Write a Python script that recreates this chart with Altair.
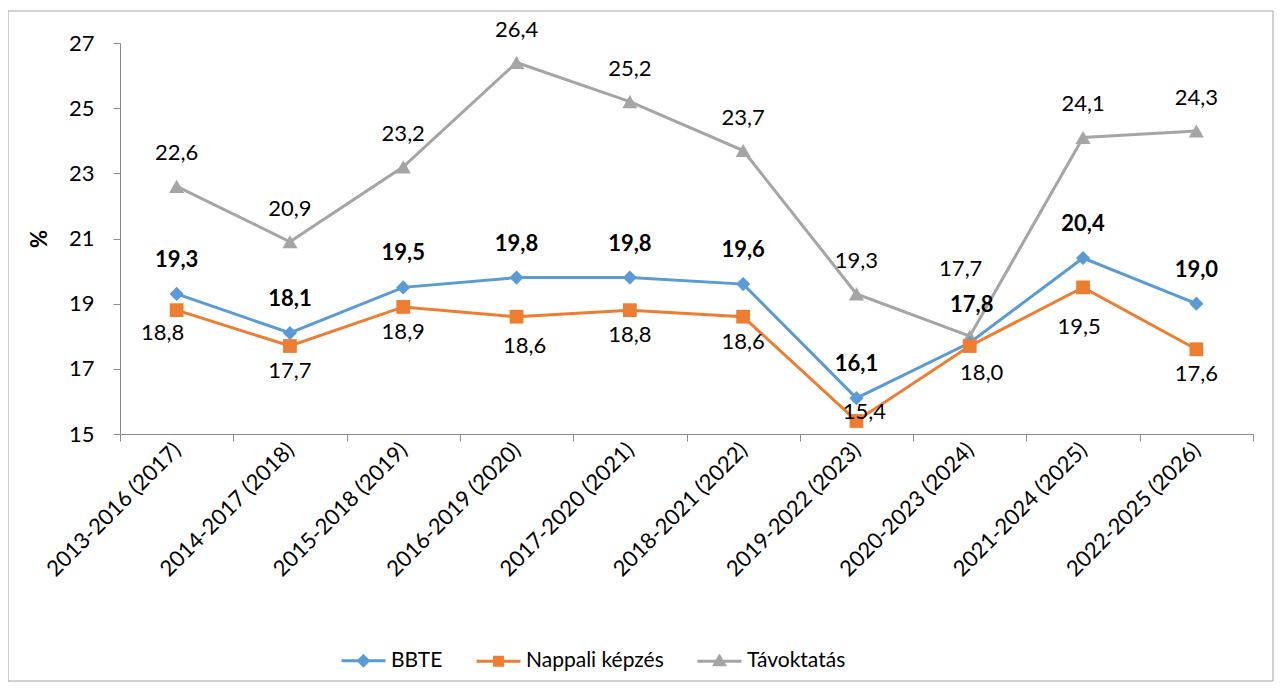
import altair as alt
import pandas as pd

categories = ["2013-2016 (2017)", "2014-2017 (2018)", "2015-2018 (2019)", "2016-2019 (2020)",
              "2017-2020 (2021)", "2018-2021 (2022)", "2019-2022 (2023)", "2020-2023 (2024)",
              "2021-2024 (2025)", "2022-2025 (2026)"]
bbte = [19.3, 18.1, 19.5, 19.8, 19.8, 19.6, 16.1, 17.8, 20.4, 19.0]
nappali = [18.8, 17.7, 18.9, 18.6, 18.8, 18.6, 15.4, 17.7, 19.5, 17.6]
tavoktatas = [22.6, 20.9, 23.2, 26.4, 25.2, 23.7, 19.3, 18.0, 24.1, 24.3]
series_names = ["BBTE", "Nappali képzés", "Távoktatás"]
colors = ["#5B9BD5", "#ED7D31", "#A5A5A5"]
y_ticks = [15, 17, 19, 21, 23, 25, 27]

rows = []
for name, vals in zip(series_names, [bbte, nappali, tavoktatas]):
    for c, v in zip(categories, vals):
        rows.append({"period": c, "series": name, "value": v,
                     "label": f"{v:.1f}".replace(".", ",")})
df = pd.DataFrame(rows)

FONT = "Lato"
FS = 22

x_enc = alt.X("period:N", sort=categories,
              scale=alt.Scale(type="band", domain=categories, paddingInner=0, paddingOuter=0),
              axis=alt.Axis(title=None, tickBand="extent", ticks=True, tickSize=7,
                            tickColor="#8C8C8C", domainColor="#8C8C8C", labelAngle=-45,
                            labelAlign="right", labelBaseline="middle", labelFont=FONT,
                            labelFontSize=FS, labelColor="black", labelPadding=5, grid=False))
y_enc = alt.Y("value:Q", scale=alt.Scale(domain=[15, 27], nice=False, zero=False),
              axis=alt.Axis(values=y_ticks, grid=False, tickSize=7, tickColor="#8C8C8C",
                            domainColor="#8C8C8C", labelFont=FONT, labelFontSize=FS,
                            labelColor="black", labelPadding=19, title="%",
                            titleFont=FONT, titleFontSize=FS, titleFontWeight="bold",
                            titleColor="black", titlePadding=17))
color_enc = alt.Color("series:N", scale=alt.Scale(domain=series_names, range=colors), legend=None)

base = alt.Chart(df)

frame = alt.Chart(pd.DataFrame({"a": [0]})).mark_rect(
    fill="white", fillOpacity=0, stroke="#A6A6A6", strokeWidth=1
).encode(x=alt.value(-112), x2=alt.value(1153), y=alt.value(-32), y2=alt.value(638))

legend_paths = [
    "M-1,0L1,0M0,-0.22L0.22,0L0,0.22L-0.22,0Z",
    "M-1,0L1,0M-0.18,-0.18L0.18,-0.18L0.18,0.18L-0.18,0.18Z",
    "M-1,0L1,0M0,-0.22L0.22,0.16L-0.22,0.16Z",
]
leg = alt.Legend(title=None, orient="none", legendX=220, legendY=594, direction="horizontal",
                 symbolSize=1936, symbolStrokeWidth=3, symbolOpacity=1, labelFont=FONT,
                 labelFontSize=21, labelColor="black", columnPadding=27, labelOffset=4)
legend_layer = base.mark_point(filled=True, size=1).encode(
    x=x_enc, y=y_enc,
    color=alt.Color("series:N", scale=alt.Scale(domain=series_names, range=colors), legend=leg),
    stroke=alt.Stroke("series:N", scale=alt.Scale(domain=series_names, range=colors), legend=leg),
    shape=alt.Shape("series:N", scale=alt.Scale(domain=series_names, range=legend_paths), legend=leg),
)

shapes = {"BBTE": ("diamond", 200), "Nappali képzés": ("square", 190), "Távoktatás": ("triangle-up", 230)}

def series_layers(name):
    sub = base.transform_filter(alt.datum.series == name)
    shp, sz = shapes[name]
    ln = sub.mark_line(strokeWidth=3).encode(x=x_enc, y=y_enc, color=color_enc)
    pt = sub.mark_point(filled=True, opacity=1, shape=shp, size=sz).encode(
        x=x_enc, y=y_enc, color=color_enc)
    return [ln, pt]

def labels(name, dx, dy, bold, exclude=(), only=None):
    ch = base.transform_filter(alt.datum.series == name)
    if only is not None:
        ch = ch.transform_filter(alt.datum.period == only)
    for e in exclude:
        ch = ch.transform_filter(alt.datum.period != e)
    return ch.mark_text(font=FONT, fontSize=FS, fontWeight="bold" if bold else "normal",
                        color="black", dx=dx, dy=dy, baseline="middle", align="center").encode(
        x=x_enc, y=y_enc, text="label:N")

text_layers = [
    labels("BBTE", 0, -34, True, exclude=[categories[7]]),
    labels("BBTE", 2, -38, True, only=categories[7]),
    labels("Távoktatás", 0, -33, False, exclude=[categories[7]]),
    labels("Távoktatás", 12, 37, False, only=categories[7]),
    labels("Nappali képzés", 0, 25, False, exclude=[categories[0], categories[3], categories[6], categories[7], categories[8]]),
    labels("Nappali képzés", -14, 23, False, only=categories[0]),
    labels("Nappali képzés", 8, 29, False, only=categories[3]),
    labels("Nappali képzés", 8, -9, False, only=categories[6]),
    labels("Nappali képzés", -9, -77, False, only=categories[7]),
    labels("Nappali képzés", -4, 40, False, only=categories[8]),
]

layers = [frame, legend_layer]
for nm in ["Távoktatás", "BBTE", "Nappali képzés"]:
    layers += series_layers(nm)
layers += text_layers

chart = alt.layer(*layers).properties(
    width=1133, height=391,
    autosize=alt.AutoSizeParams(type="none"),
    padding={"left": 112, "top": 35, "right": 21, "bottom": 249},
    background="white",
).configure_view(strokeWidth=0)

chart.save("out.html", embed_options={"renderer": "svg", "actions": False})
